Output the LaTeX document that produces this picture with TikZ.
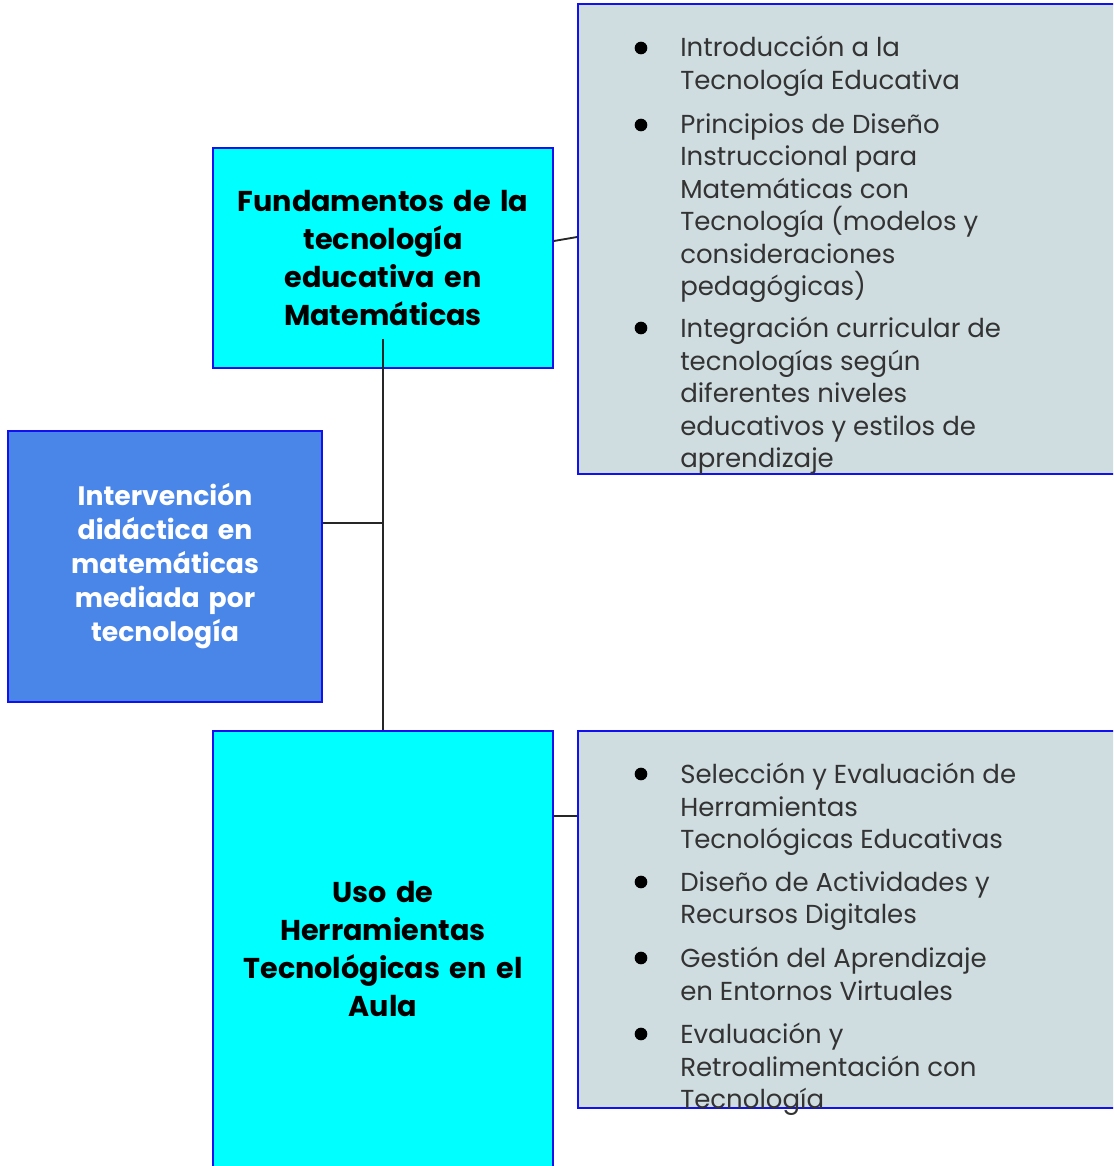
\documentclass[tikz,border=0pt]{standalone}
\usepackage{fontspec}
\setmainfont{Poppins}
\usepackage{tikz}
\usetikzlibrary{positioning}

\definecolor{cajaCyan}{HTML}{00FFFF}
\definecolor{cajaGris}{HTML}{CFDCE0}
\definecolor{cajaAzul}{HTML}{4A86E8}
\definecolor{borde}{HTML}{1010F0}
\definecolor{textoItem}{HTML}{333333}

\tikzset{
  caja/.style={rectangle, draw=borde, line width=1.3pt, inner sep=0pt},
  tema/.style={caja, fill=cajaCyan, minimum width=255pt, text width=250pt, align=center,
    font=\fontsize{21.5}{28.5}\selectfont\bfseries},
  lista/.style={caja, fill=cajaGris, minimum width=414pt},
  item/.style={anchor=north west, inner sep=0pt, text=textoItem, align=left,
    font=\fontsize{19.5}{24.4}\selectfont, execute at begin node=\strut},
  punto/.style={circle, fill=black, inner sep=0pt, minimum size=9.5pt},
  enlace/.style={line width=1.4pt, draw=black!85}
}

\begin{document}
\begin{tikzpicture}[x=0.75pt, y=-0.75pt]
  \useasboundingbox (0,0) rectangle (1113,1166);
  \clip (0,0) rectangle (1113,1166);

  % cajas principales
  \node[tema, minimum height=165pt] (fundamentos) at (383,258) {Fundamentos de la\\tecnología\\educativa en\\Matemáticas};
  \node[tema, minimum height=327pt] (uso) at (383,949) {Uso de\\Herramientas\\Tecnológicas en el\\Aula};
  \node[caja, fill=cajaAzul, minimum width=235.5pt, minimum height=203pt, text width=220pt, align=center, text=white,
    font=\fontsize{20}{25.5}\selectfont\bfseries] (intervencion) at (165,566.5) {Intervención\\didáctica en\\matemáticas\\mediada por\\tecnología};

  % listas de contenidos
  \node[lista, minimum height=352.5pt] (listaA) at (854,239) {};
  \node[lista, minimum height=282.75pt] (listaB) at (854,919.5) {};

  % temas de la primera lista
  \node[punto] (pA1) at (641,48) {};
  \node[item] (tA1) at (680,36) {Introducción a la\\Tecnología Educativa};
  \node[punto] (pA2) at (641,125) {};
  \node[item] (tA2) at (680,113) {Principios de Diseño\\Instruccional para\\Matemáticas con\\Tecnología (modelos y\\consideraciones\\pedagógicas)};
  \node[punto] (pA3) at (641,328) {};
  \node[item] (tA3) at (680,317) {Integración curricular de\\tecnologías según\\diferentes niveles\\educativos y estilos de\\aprendizaje};

  % temas de la segunda lista
  \node[punto] (pB1) at (641,774) {};
  \node[item] (tB1) at (680,763) {Selección y Evaluación de\\Herramientas\\Tecnológicas Educativas};
  \node[punto] (pB2) at (641,882) {};
  \node[item] (tB2) at (680,871) {Diseño de Actividades y\\Recursos Digitales};
  \node[punto] (pB3) at (641,958) {};
  \node[item] (tB3) at (680,947) {Gestión del Aprendizaje\\en Entornos Virtuales};
  \node[punto] (pB4) at (641,1034) {};
  \node[item] (tB4) at (680,1023) {Evaluación y\\Retroalimentación con\\Tecnología};

  % conectores
  \coordinate (tronco) at ([yshift=22.5pt]fundamentos.south);
  \coordinate (rama) at (383,523);
  \coordinate (union) at (566,816);
  \draw[enlace] (tronco) -- (uso.north);
  \draw[enlace] (rama -| intervencion.east) -- (rama);
  \draw[enlace] ([yshift=12.75pt]fundamentos.east) -- ([yshift=1.5pt]listaA.west);
  \draw[enlace] (union -| uso.east) -- (union -| listaB.west);
\end{tikzpicture}
\end{document}
